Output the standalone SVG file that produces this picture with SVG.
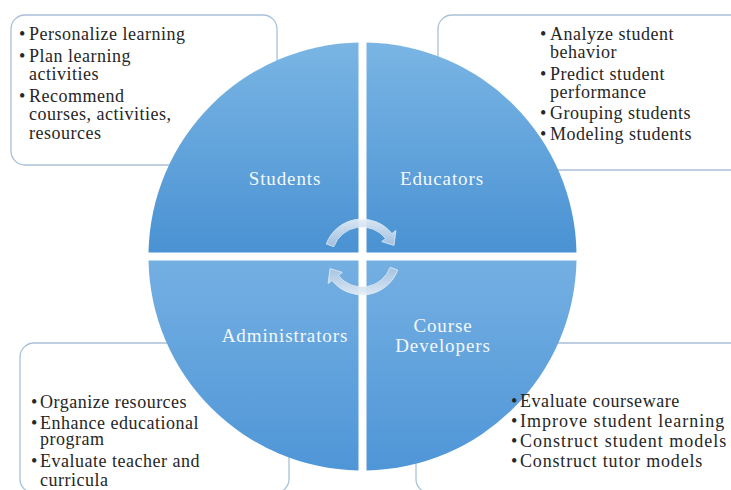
<svg xmlns="http://www.w3.org/2000/svg" width="731" height="490" viewBox="0 0 731 490">
<defs>
<style>
.box{fill:#ffffff;stroke:#a9c0d7;stroke-width:1.3}
.t{font-family:"Liberation Serif","DejaVu Serif",serif;font-size:18px;fill:#262626;letter-spacing:0.5px}
.t4{letter-spacing:0.7px}
.lbl{font-family:"Liberation Serif","DejaVu Serif",serif;font-size:19px;fill:#f3f8fd;letter-spacing:0.9px;text-anchor:middle}
.arr{fill:url(#ga);stroke:#eef4fb;stroke-width:0.8;opacity:0.92}
</style>
<linearGradient id="gt" x1="0" y1="0" x2="0" y2="1">
<stop offset="0" stop-color="#7ab5e4"/>
<stop offset="1" stop-color="#4a92d3"/>
</linearGradient>
<linearGradient id="gb" x1="0" y1="0" x2="0" y2="1">
<stop offset="0" stop-color="#74afe2"/>
<stop offset="1" stop-color="#4f96d7"/>
</linearGradient>
<linearGradient id="ga" x1="0" y1="0" x2="0" y2="1">
<stop offset="0" stop-color="#e4edf7"/>
<stop offset="1" stop-color="#a9c4e0"/>
</linearGradient>
</defs>
<rect width="731" height="490" fill="#ffffff"/>

<g id="box-students">
<rect class="box" x="11" y="15" width="266" height="150" rx="14"/>
</g>
<g id="box-educators">
<rect class="box" x="438" y="15" width="320" height="155" rx="14"/>
</g>
<g id="box-administrators">
<rect class="box" x="20" y="343" width="269" height="150" rx="14"/>
</g>
<g id="box-developers">
<rect class="box" x="416" y="343" width="330" height="150" rx="14"/>
</g>

<g id="node-students">
<path d="M358.5,252.5 L148.5,252.5 A214,214 0 0 1 358.5,42.5 Z" fill="url(#gt)"/>
<text class="lbl" x="285" y="185">Students</text>
</g>
<g id="node-educators">
<path d="M366.5,252.5 L366.5,42.5 A214,214 0 0 1 576.5,252.5 Z" fill="url(#gt)"/>
<text class="lbl" x="442" y="185">Educators</text>
</g>
<g id="node-administrators">
<path d="M358.5,260.5 L358.5,470.5 A214,214 0 0 1 148.5,260.5 Z" fill="url(#gb)"/>
<text class="lbl" x="285" y="342">Administrators</text>
</g>
<g id="node-developers">
<path d="M366.5,260.5 L576.5,260.5 A214,214 0 0 1 366.5,470.5 Z" fill="url(#gb)"/>
<text class="lbl" x="443" y="332">Course</text>
<text class="lbl" x="443" y="352">Developers</text>
</g>

<g id="connectors">
<path class="arr" d="M326.3,244.0 A38,38 0 0 1 391.9,233.6 L395.9,230.5 L394.0,245.4 L381.7,241.6 L385.6,238.5 A30,30 0 0 0 333.8,246.7 Z"/>
<path class="arr" transform="rotate(180 362 257)" d="M326.3,244.0 A38,38 0 0 1 391.9,233.6 L395.9,230.5 L394.0,245.4 L381.7,241.6 L385.6,238.5 A30,30 0 0 0 333.8,246.7 Z"/>
</g>

<g id="box-students-text">
<text class="t" x="19" y="40">•</text><text class="t" x="29" y="40">Personalize learning</text>
<text class="t" x="19" y="62">•</text><text class="t" x="29" y="62">Plan learning</text>
<text class="t" x="29" y="80">activities</text>
<text class="t" x="19" y="102">•</text><text class="t" x="29" y="102">Recommend</text>
<text class="t" x="29" y="120">courses, activities,</text>
<text class="t" x="29" y="139">resources</text>
</g>

<g id="box-educators-text">
<text class="t" x="540" y="40">•</text><text class="t" x="550" y="40">Analyze student</text>
<text class="t" x="550" y="58">behavior</text>
<text class="t" x="540" y="80">•</text><text class="t" x="550" y="80">Predict student</text>
<text class="t" x="550" y="98">performance</text>
<text class="t" x="540" y="119">•</text><text class="t" x="550" y="119">Grouping students</text>
<text class="t" x="540" y="140">•</text><text class="t" x="550" y="140">Modeling students</text>
</g>

<g id="box-administrators-text">
<text class="t" x="31" y="408">•</text><text class="t" x="40" y="408">Organize resources</text>
<text class="t" x="31" y="429">•</text><text class="t" x="40" y="429">Enhance educational</text>
<text class="t" x="40" y="445">program</text>
<text class="t" x="31" y="467">•</text><text class="t" x="40" y="467">Evaluate teacher and</text>
<text class="t" x="40" y="486">curricula</text>
</g>

<g id="box-developers-text">
<text class="t" x="511" y="407">•</text><text class="t t4" x="520" y="407" textLength="160" lengthAdjust="spacing">Evaluate courseware</text>
<text class="t" x="511" y="427">•</text><text class="t t4" x="520" y="427" textLength="205" lengthAdjust="spacing">Improve student learning</text>
<text class="t" x="511" y="447">•</text><text class="t t4" x="520" y="447" textLength="207" lengthAdjust="spacing">Construct student models</text>
<text class="t" x="511" y="467">•</text><text class="t t4" x="520" y="467" textLength="183" lengthAdjust="spacing">Construct tutor models</text>
</g>
</svg>
